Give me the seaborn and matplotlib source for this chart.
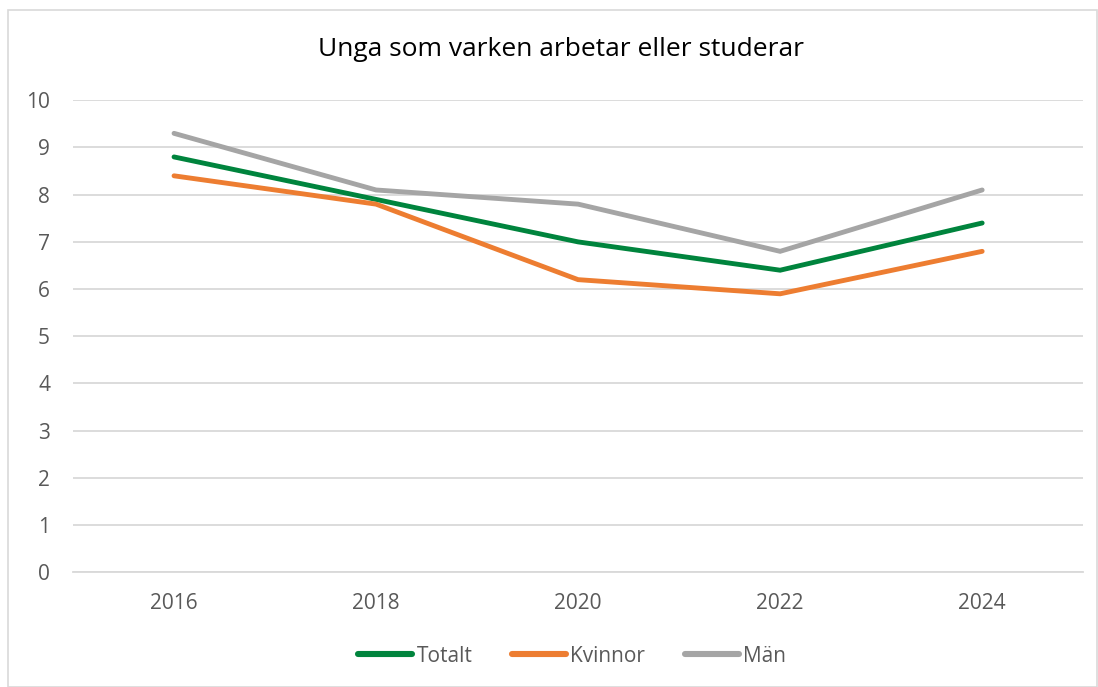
import matplotlib
matplotlib.use("Agg")
import matplotlib.pyplot as plt
import seaborn as sns
import pandas as pd
from matplotlib.patches import Rectangle

years = ["2016", "2018", "2020", "2022", "2024"]
totalt = [8.8, 7.9, 7.0, 6.4, 7.4]
kvinnor = [8.4, 7.8, 6.2, 5.9, 6.8]
man = [9.3, 8.1, 7.8, 6.8, 8.1]
series_names = ["Totalt", "Kvinnor", "Män"]
colors = ["#00843D", "#ED7D31", "#A5A5A5"]
title = "Unga som varken arbetar eller studerar"

rows = []
for name, vals in zip(series_names, [totalt, kvinnor, man]):
    for y, v in zip(years, vals):
        rows.append({"År": y, "Värde": v, "Serie": name})
df = pd.DataFrame(rows)

sns.set_theme(style="white")
plt.rcParams['font.family'] = ['Open Sans', 'DejaVu Sans']

fig = plt.figure(figsize=(10.98, 6.87), dpi=100)
ax = fig.add_axes([0.0665, 0.167, 0.92, 0.687])

sns.lineplot(data=df, x="År", y="Värde", hue="Serie", hue_order=series_names,
             palette=colors, linewidth=3.5, ax=ax, sort=False,
             solid_capstyle="round", solid_joinstyle="miter", legend=True)

ax.set_ylim(0, 10)
ax.set_xlim(-0.5, 4.5)
ax.set_yticks(range(0, 11))
ax.yaxis.grid(True, color="#D9D9D9", linewidth=1.3)
ax.set_axisbelow(True)
for s in ["top", "right", "left"]:
    ax.spines[s].set_visible(False)
ax.spines["bottom"].set_color("#D9D9D9")
ax.spines["bottom"].set_linewidth(1.3)
ax.tick_params(axis="both", length=0, labelsize=15, colors="#595959")
ax.tick_params(axis="y", pad=16.5)
ax.tick_params(axis="x", pad=15)
ax.set_xlabel("")
ax.set_ylabel("")

fig.text(0.511, 0.928, title, ha="center", va="center", fontsize=19, color="#000000")

handles, labels = ax.get_legend_handles_labels()
ax.legend_.remove()
for h in handles:
    h.set_linewidth(4.4)
fig.legend(handles, labels, loc="center", bbox_to_anchor=(0.521, 0.045), ncol=3,
           frameon=False, fontsize=15, handlelength=2.6, handletextpad=0.2,
           columnspacing=1.9, labelcolor="#595959")

fig.patches.append(Rectangle((0.007, 0.0), 0.992, 0.986, transform=fig.transFigure,
                             fill=False, edgecolor="#D9D9D9", linewidth=1.2))

fig.savefig("out.png", dpi=100)
